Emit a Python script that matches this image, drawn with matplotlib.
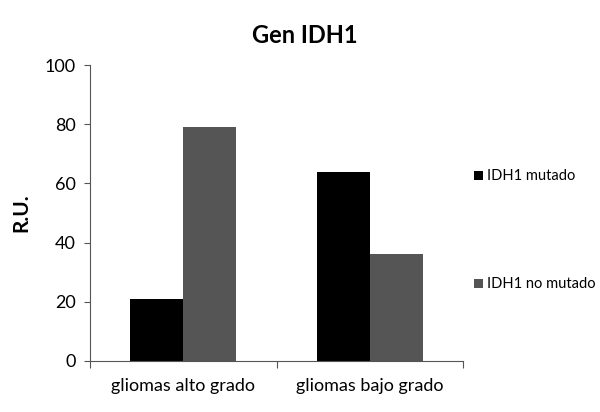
import matplotlib.pyplot as plt
import numpy as np

categories = ["gliomas alto grado", "gliomas bajo grado"]
mutado = [21, 64]
no_mutado = [79, 36]
series_names = ["IDH1 mutado", "IDH1 no mutado"]

plt.rcParams["font.family"] = ["Lato", "DejaVu Sans"]

fig = plt.figure(figsize=(6, 4.12), dpi=100)
ax = fig.add_axes([0.15, 0.124, 0.622, 0.718])

x = np.arange(len(categories))
w = 0.285
b1 = ax.bar(x - w / 2, mutado, w, color="black", label=series_names[0])
b2 = ax.bar(x + w / 2, no_mutado, w, color="#555555", label=series_names[1])

ax.set_xlim(-0.5, len(categories) - 0.5)
ax.set_ylim(0, 100)
ax.set_yticks(range(0, 101, 20))
ax.tick_params(axis="y", labelsize=13, length=4, color="#555555", pad=6)

ax.set_xticks(np.arange(-0.5, len(categories), 1.0))
ax.set_xticklabels([])
ax.set_xticks(x, minor=True)
ax.set_xticklabels(categories, minor=True, fontsize=13)
ax.tick_params(axis="x", which="major", length=5, color="#555555")
ax.tick_params(axis="x", which="minor", length=0, pad=12)

for s in ["top", "right"]:
    ax.spines[s].set_visible(False)
for s in ["left", "bottom"]:
    ax.spines[s].set_color("#555555")

ax.set_ylabel("R.U.", fontsize=15, fontweight="bold", labelpad=10)
fig.text(0.508, 0.915, "Gen IDH1", ha="center", va="center", fontsize=17, fontweight="bold")

fig.legend(handles=[b1, b2], loc="upper left", bbox_to_anchor=(0.79, 0.589),
           frameon=False, fontsize=10.5, labelspacing=6.45, handlelength=0.6,
           handleheight=0.6, handletextpad=0.3, borderpad=0, borderaxespad=0)

fig.savefig("out.png", dpi=100)
